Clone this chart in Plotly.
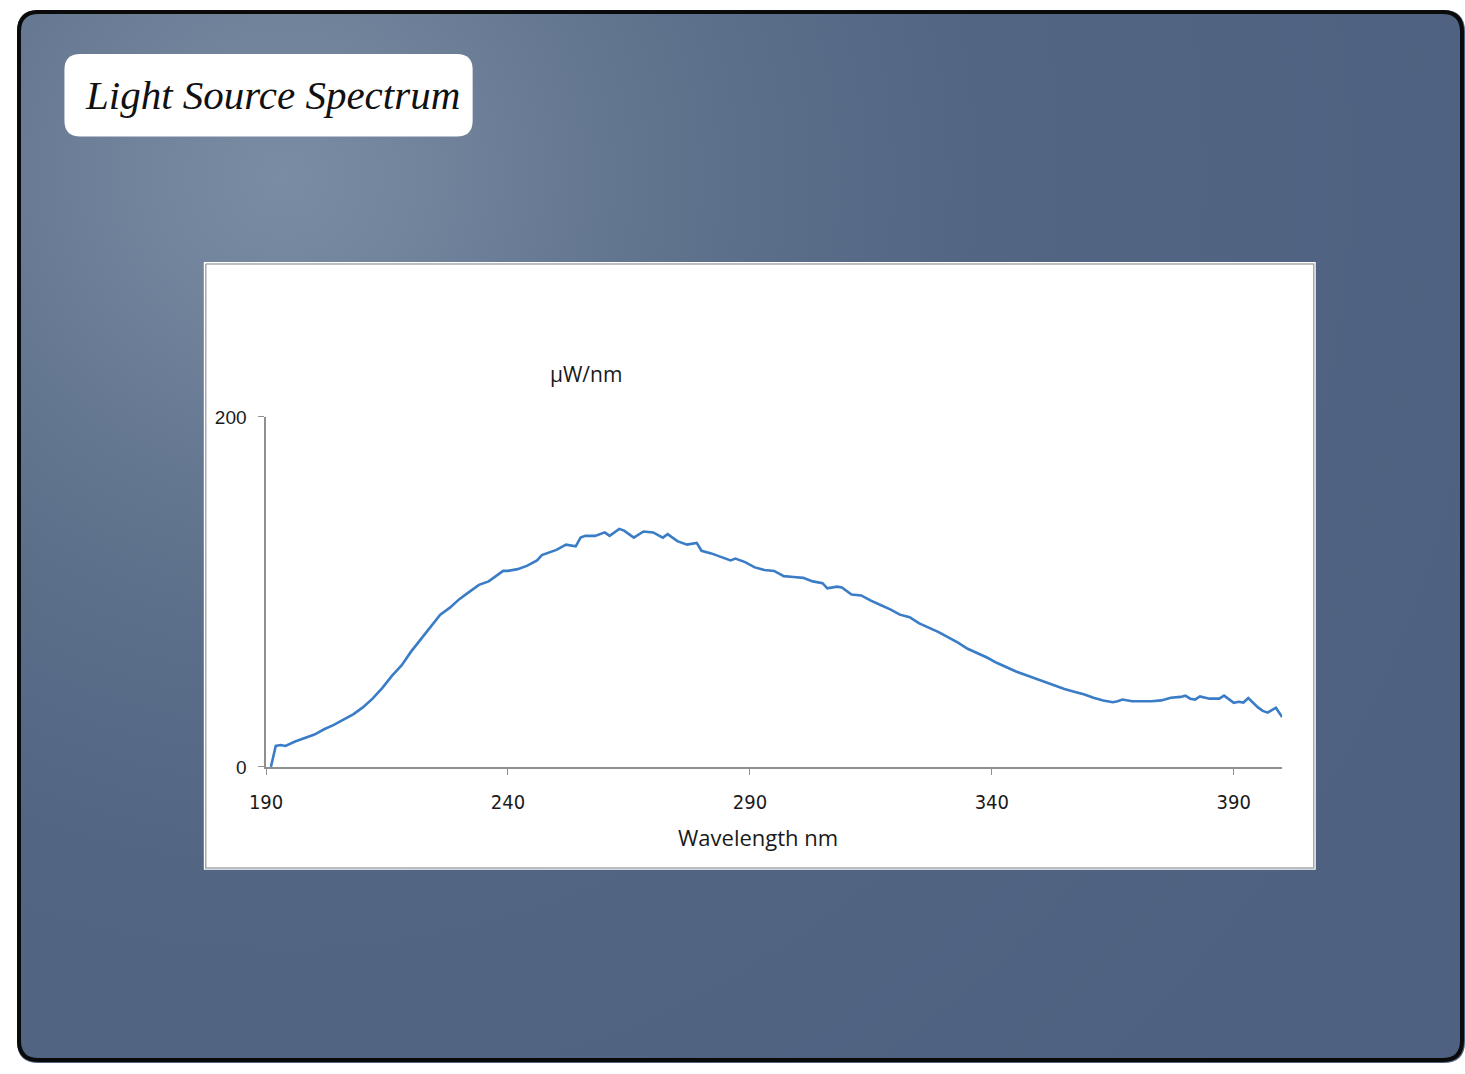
import plotly.graph_objects as go

# ---- data ----
wavelength = [191, 192, 193, 194, 196, 198, 200, 202, 204, 206, 208, 210, 212, 214, 216, 218,
              220, 222, 224, 226, 228, 230, 232, 234, 236, 238, 239, 240, 242, 244, 246, 247,
              248, 250, 252, 254, 255, 256, 258, 260, 261, 263, 264, 266, 268, 270, 272, 273,
              275, 277, 279, 280, 282, 284, 286, 287, 289, 291, 293, 295, 297, 299, 301, 303,
              305, 306, 308, 309, 311, 313, 315, 317, 319, 321, 323, 325, 327, 329, 331, 333,
              335, 337, 339, 341, 343, 345, 347, 349, 351, 353, 355, 357, 359, 361, 363, 365,
              366, 367, 369, 371, 373, 375, 377, 379, 380, 381, 382, 383, 385, 387, 388, 390,
              391, 392, 393, 395, 396, 397, 398.7, 400]
power = [0, 12, 12.5, 12, 14.5, 16.5, 18.5, 21.5, 24, 27, 30, 34, 39, 45, 52, 58,
         66, 73, 80, 87, 91, 96, 100, 104, 106, 110, 112, 112, 113, 115, 118, 121,
         122, 124, 127, 126, 131, 132, 132, 134, 132, 136, 135, 131, 134.5, 134, 131, 133,
         129, 127, 128, 123.5, 122, 120, 118, 119, 117, 114, 112.5, 112, 109, 108.5, 108, 106,
         105, 102, 103, 102.5, 98.5, 98, 95, 92.5, 90, 87, 85.5, 82, 79.5, 77, 74, 71,
         67.5, 65, 62.5, 59.5, 57, 54.5, 52.5, 50.5, 48.5, 46.5, 44.5, 43, 41.5, 39.5, 38, 37,
         37.5, 38.5, 37.5, 37.5, 37.5, 38, 39.5, 40, 40.7, 39, 38.5, 40.3, 39, 39, 40.7, 36.6,
         37.2, 36.8, 39.4, 34, 32, 31, 33.8, 28.5]
x_ticks = [190, 240, 290, 340, 390]
y_ticks = [0, 200]
title_text = "Light Source Spectrum"
y_unit = "µW/nm"
x_title = "Wavelength nm"

W, H = 1465, 1074

fig = go.Figure()

# background radial gradient (pixel-space subplot covering the page)
cx, cy, R = 270, 170, 1300
fig.add_trace(go.Scatter(
    x=[cx - R, cx + R, cx + R, cx - R, cx - R],
    y=[cy - R, cy - R, cy + R, cy + R, cy - R],
    mode="lines", line=dict(width=0), fill="toself",
    fillgradient=dict(type="radial",
                      colorscale=[[0, "#7a8ca3"], [0.11, "#72849c"], [0.25, "#647790"],
                                  [0.40, "#596c88"], [0.55, "#526583"], [1, "#4e6180"]]),
    hoverinfo="skip", showlegend=False, xaxis="x", yaxis="y"))

# white chart panel with thin grey inner frame
px0, px1, py0, py1 = 189, 1314, 257, 877
fig.add_trace(go.Scatter(
    x=[px0, px1, px1, px0, px0], y=[py0, py0, py1, py1, py0],
    mode="lines", line=dict(width=0), fill="toself", fillcolor="white",
    hoverinfo="skip", showlegend=False, xaxis="x", yaxis="y"))
fig.add_trace(go.Scatter(
    x=[px0 + 2, px1 - 2, px1 - 2, px0 + 2, px0 + 2],
    y=[py0 + 2, py0 + 2, py1 - 2, py1 - 2, py0 + 2],
    mode="lines", line=dict(width=1.5, color="#a4a9b0"),
    hoverinfo="skip", showlegend=False, xaxis="x", yaxis="y"))

# spectrum line
fig.add_trace(go.Scatter(
    x=wavelength, y=power, mode="lines",
    line=dict(color="#3a7cc6", width=2.6),
    showlegend=False, xaxis="x2", yaxis="y2"))

ax_col = "#8f8f8f"
fig.update_layout(
    autosize=True,
    margin=dict(l=0, r=0, t=0, b=0),
    paper_bgcolor="white", plot_bgcolor="rgba(0,0,0,0)",
    xaxis=dict(range=[0, W], domain=[0, 1], visible=False, fixedrange=True),
    yaxis=dict(range=[H, 0], domain=[0, 1], visible=False, fixedrange=True),
    xaxis2=dict(range=[190, 400], domain=[252 / W, 1280 / W], anchor="y2",
                tickvals=x_ticks, ticks="outside", ticklen=6, tickcolor=ax_col,
                showline=True, linecolor=ax_col, linewidth=1.5, showgrid=False, zeroline=False,
                ticklabelstandoff=10,
                tickfont=dict(family="DejaVu Sans Condensed, Liberation Sans Narrow, Arial Narrow, sans-serif",
                              size=20, color="#1a1a1a")),
    yaxis2=dict(range=[0, 200], domain=[1 - 772 / H, 1 - 415 / H], anchor="x2",
                tickvals=y_ticks, ticks="outside", ticklen=6, tickcolor=ax_col,
                showline=True, linecolor=ax_col, linewidth=1.5, showgrid=False, zeroline=False,
                ticklabelstandoff=8,
                tickfont=dict(family="Liberation Sans, Arial, sans-serif", size=19, color="#1a1a1a")),
    annotations=[
        dict(text=y_unit, x=576 / W, y=1 - 371 / H, xref="paper", yref="paper",
             showarrow=False, xanchor="center", yanchor="middle",
             font=dict(family="Open Sans, Liberation Sans, sans-serif", size=21, color="#1a1a1a")),
        dict(text=x_title, x=750 / W, y=1 - 843 / H, xref="paper", yref="paper",
             showarrow=False, xanchor="center", yanchor="middle",
             font=dict(family="Open Sans, Liberation Sans, sans-serif", size=22, color="#1a1a1a")),
        dict(text=title_text, x=258 / W, y=1 - 87 / H, xref="paper", yref="paper",
             showarrow=False, xanchor="center", yanchor="middle",
             font=dict(family="Liberation Serif, DejaVu Serif, serif", size=41, color="#111111",
                       style="italic")),
    ],
)

def rrect(x0, y0, x1, y1, r):
    return (f"M{x0 + r},{y0} L{x1 - r},{y0} Q{x1},{y0} {x1},{y0 + r} "
            f"L{x1},{y1 - r} Q{x1},{y1} {x1 - r},{y1} L{x0 + r},{y1} "
            f"Q{x0},{y1} {x0},{y1 - r} L{x0},{y0 + r} Q{x0},{y0} {x0 + r},{y0} Z")

shapes = []
# title box
shapes.append(dict(type="path", xref="x", yref="y", layer="above",
                   path=rrect(48, 45, 461, 129, 16), fillcolor="white", line=dict(width=0)))
# white page corners outside the rounded border
r = 22
for (ax, ay, sx, sy) in [(0, 0, 1, 1), (W, 0, -1, 1), (0, H, 1, -1), (W, H, -1, -1)]:
    p = (f"M{ax},{ay} L{ax + sx * r},{ay} Q{ax},{ay} {ax},{ay + sy * r} Z")
    shapes.append(dict(type="path", xref="x", yref="y", layer="above", path=p,
                       fillcolor="white", line=dict(width=0)))
# black rounded border
shapes.append(dict(type="path", xref="x", yref="y", layer="above",
                   path=rrect(2, 2, W - 3, H - 3, 20), fillcolor="rgba(0,0,0,0)",
                   line=dict(color="#0a0a0a", width=4)))
fig.update_layout(shapes=shapes)

fig.write_html(
    "out.html",
    default_width="100vw",
    default_height="100vh",
    config={"displayModeBar": False, "responsive": True},
    post_script="document.body.style.margin='0';document.body.style.padding='0';"
                "document.body.style.overflow='hidden';"
                "document.documentElement.style.overflow='hidden';",
)
